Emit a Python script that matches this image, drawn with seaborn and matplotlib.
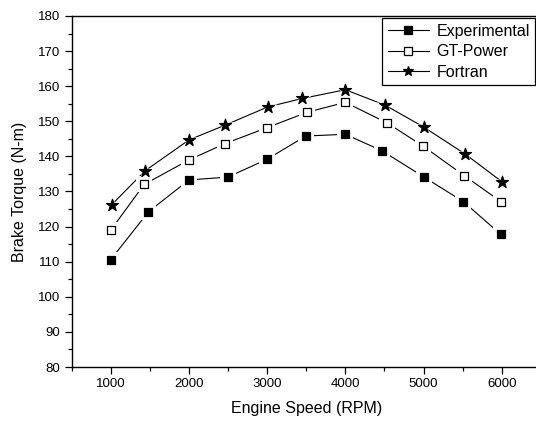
import matplotlib
matplotlib.use("Agg")
import matplotlib.pyplot as plt
from matplotlib.lines import Line2D
from matplotlib.ticker import MultipleLocator
import seaborn as sns
import pandas as pd

# ---- data ----
exp_rpm = [1000, 1481, 2000, 2496, 3000, 3494, 4000, 4469, 5000, 5510, 5987]
exp_torque = [110.6, 124.2, 133.3, 134.1, 139.2, 145.8, 146.3, 141.6, 134.2, 127.1, 117.8]

gt_rpm = [1000, 1426, 2000, 2457, 3000, 3514, 4000, 4537, 4990, 5522, 5991]
gt_torque = [119.0, 132.0, 139.0, 143.6, 148.2, 152.6, 155.4, 149.5, 143.0, 134.5, 127.1]

ft_rpm = [1010, 1439, 2000, 2462, 3008, 3450, 4000, 4508, 5000, 5531, 6008]
ft_torque = [126.2, 135.9, 144.7, 148.9, 154.1, 156.5, 159.0, 154.6, 148.4, 140.7, 132.7]

series_names = ["Experimental", "GT-Power", "Fortran"]
x_ticks = [1000, 2000, 3000, 4000, 5000, 6000]
y_ticks = [80, 90, 100, 110, 120, 130, 140, 150, 160, 170, 180]

sns.set_style("ticks")
plt.rcParams["font.family"] = ["Liberation Sans", "DejaVu Sans"]
plt.rcParams["text.color"] = "black"
plt.rcParams["axes.labelcolor"] = "black"
plt.rcParams["xtick.color"] = "black"
plt.rcParams["ytick.color"] = "black"

fig = plt.figure(figsize=(5.36, 4.22), dpi=100)
ax = fig.add_axes([71.7 / 536, 1 - 367 / 422, (540.8 - 71.7) / 536, (367 - 16) / 422])

styles = [
    dict(marker="s", ms=6.0, mfc="black"),
    dict(marker="s", ms=6.0, mfc="white"),
    dict(marker="*", ms=9.0, mfc="black"),
]
data = [(exp_rpm, exp_torque), (gt_rpm, gt_torque), (ft_rpm, ft_torque)]

handles = []
for name, (xs, ys), st in zip(series_names, data, styles):
    df = pd.DataFrame({"rpm": xs, "torque": ys})
    # connecting line
    sns.lineplot(data=df, x="rpm", y="torque", color="black", lw=0.8,
                 ax=ax, zorder=2, sort=False)
    # white halo to create gaps around markers
    halo = (st["ms"] + 5) ** 2
    sns.scatterplot(data=df, x="rpm", y="torque", marker=st["marker"], s=halo,
                    color="white", edgecolor="white", linewidth=0, ax=ax, zorder=3)
    # markers
    sns.scatterplot(data=df, x="rpm", y="torque", marker=st["marker"],
                    s=st["ms"] ** 2, facecolor=st["mfc"], edgecolor="black",
                    linewidth=0.9, ax=ax, zorder=4)
    handles.append(Line2D([], [], color="black", lw=0.8, marker=st["marker"],
                          ms=st["ms"] * 0.85, mfc=st["mfc"], mec="black", mew=0.9,
                          label=name))

ax.set_xlim(500, 6500)
ax.set_ylim(80, 180)
ax.set_xticks(x_ticks)
ax.set_yticks(y_ticks)
ax.xaxis.set_minor_locator(MultipleLocator(500))
ax.yaxis.set_minor_locator(MultipleLocator(5))
ax.tick_params(axis="both", which="major", direction="out", length=5, width=0.9,
               labelsize=9.5, pad=3, colors="black")
ax.tick_params(axis="both", which="minor", direction="out", length=3, width=0.9,
               colors="black")
for sp in ax.spines.values():
    sp.set_linewidth(1.0)
    sp.set_color("black")

ax.set_xlabel("Engine Speed (RPM)", fontsize=11.5, labelpad=8, color="black")
ax.set_ylabel("Brake Torque (N-m)", fontsize=11.5, labelpad=8, color="black")

leg = ax.legend(handles=handles, loc="upper left",
                bbox_to_anchor=(382 / 536, 1 - 18 / 422),
                bbox_transform=fig.transFigure, borderaxespad=0,
                frameon=True, fancybox=False, framealpha=1, edgecolor="black",
                fontsize=11.5, handlelength=2.6, handletextpad=0.45,
                borderpad=0.35, labelspacing=0.35)
leg.get_frame().set_linewidth(0.9)
for t in leg.get_texts():
    t.set_color("black")

fig.savefig("out.png", dpi=100)
